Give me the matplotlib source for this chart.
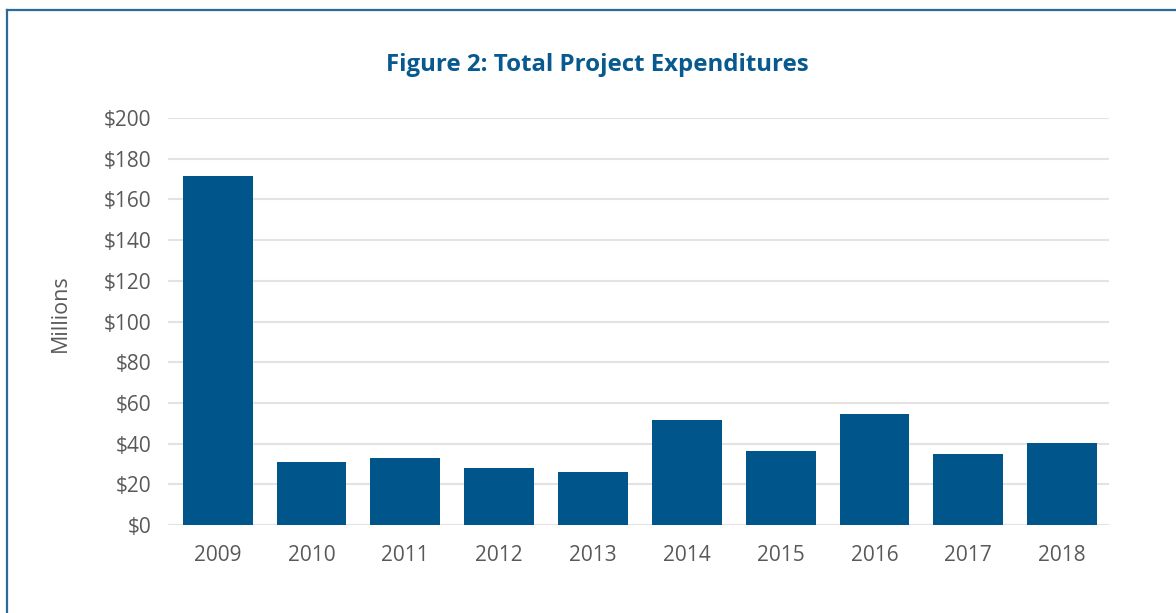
import matplotlib.pyplot as plt
from matplotlib.lines import Line2D

years = ["2009", "2010", "2011", "2012", "2013", "2014", "2015", "2016", "2017", "2018"]
spend = [171.5, 31.0, 32.9, 28.0, 26.0, 51.6, 36.4, 54.5, 34.9, 40.3]
yticks = [0, 20, 40, 60, 80, 100, 120, 140, 160, 180, 200]
ylabels = ["$" + str(v) for v in yticks]

plt.rcParams['font.family'] = ['Open Sans', 'DejaVu Sans']

fig = plt.figure(figsize=(11.76, 6.13), dpi=100)
ax = fig.add_axes([168/1176, 1-525/613, (1109-168)/1176, (525-118)/613])

x = list(range(len(years)))
ax.bar(x, spend, width=0.745, color='#00558B', zorder=3)

ax.set_xlim(-0.53, 9.5)
ax.set_ylim(0, 200)
ax.set_yticks(yticks)
ax.set_yticklabels(ylabels)
ax.set_xticks(x)
ax.set_xticklabels(years)
ax.tick_params(axis='both', length=0, labelsize=15, labelcolor='#595959')
ax.tick_params(axis='y', pad=12)
ax.tick_params(axis='x', pad=14.5)
ax.grid(axis='y', color='#E3E3E3', linewidth=1.5, zorder=0)
for s in ax.spines.values():
    s.set_visible(False)

fig.text(597/1176, 1-65/613, "Figure 2: Total Project Expenditures", ha='center', va='center',
         fontsize=17.3, fontweight='bold', color='#07598F')
fig.text(60/1176, 1-313/613, "Millions", rotation=90, ha='center', va='center',
         fontsize=15.5, color='#595959')

# frame around the chart (top and left only, as in the source crop)
fig.add_artist(Line2D([6.5/1176, 6.5/1176], [0, 1-9.5/613], color='#2B6A99', linewidth=1.6))
fig.add_artist(Line2D([6.5/1176, 1], [1-9.5/613, 1-9.5/613], color='#2B6A99', linewidth=1.6))

fig.savefig("out.png", dpi=100)
